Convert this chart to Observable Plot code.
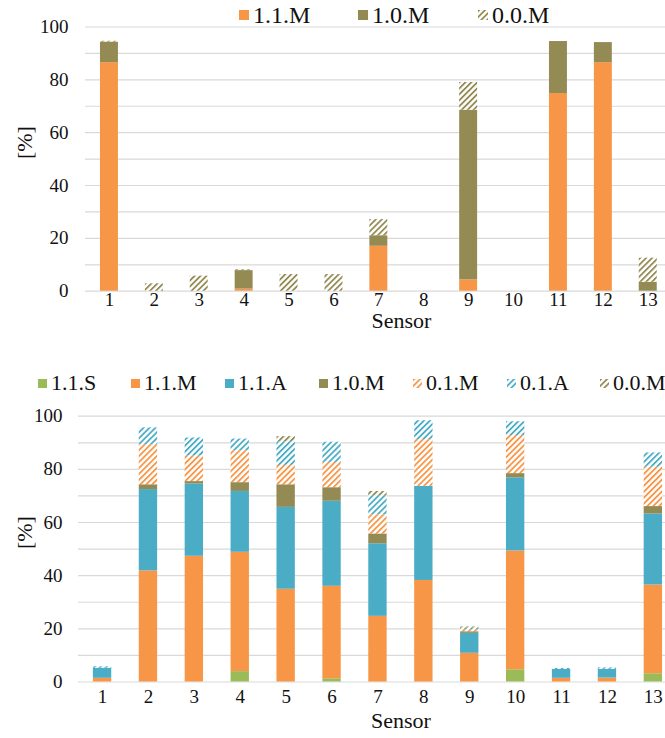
<!DOCTYPE html>
<html>
<head>
<meta charset="utf-8">
<script src="https://cdn.jsdelivr.net/npm/d3@7"></script>
<script src="https://cdn.jsdelivr.net/npm/@observablehq/plot@0.6"></script>
<style>
  body { margin: 0; background: #fff; }
  #root { position: relative; width: 665px; height: 738px; font-family: "Liberation Serif", "Times New Roman", serif; color: #111; overflow: hidden; }
  .chart { position: absolute; left: 0; }
  .chart text { font-family: "Liberation Serif", "Times New Roman", serif; }
  .legend { position: absolute; left: 0; width: 665px; height: 30px; }
  .item { position: absolute; top: 0; display: flex; align-items: center; height: 30px; white-space: nowrap; }
  .item svg { margin-right: 4px; }
</style>
</head>
<body>
<div id="root">
  <svg width="0" height="0" style="position:absolute">
    <defs id="pdefs"></defs>
  </svg>
</div>
<script>
// ---------- data ----------
const sensors = [1, 2, 3, 4, 5, 6, 7, 8, 9, 10, 11, 12, 13];

// top chart series
const topSeries = ["1.1.M", "1.0.M", "0.0.M"];
const top_11M = [86.5, 0, 0, 0.8, 0, 0, 17.0, 0, 4.3, 0, 74.8, 86.5, 0];
const top_10M = [7.8, 0, 0, 7.0, 0, 0, 4.0, 0, 64.2, 0, 19.7, 7.6, 3.4];
const top_00M = [0.3, 2.8, 5.7, 0.3, 6.3, 6.3, 6.1, 0, 10.5, 0, 0, 0, 9.1];

// bottom chart series
const botSeries = ["1.1.S", "1.1.M", "1.1.A", "1.0.M", "0.1.M", "0.1.A", "0.0.M"];
const bot_11S = [0, 0, 0, 3.9, 0, 1.2, 0, 0, 0, 4.6, 0, 0, 3.1];
const bot_11M = [1.4, 41.8, 47.3, 44.9, 34.9, 34.8, 24.7, 38.2, 10.8, 44.7, 1.4, 1.5, 33.4];
const bot_11A = [3.8, 30.6, 27.2, 22.9, 30.8, 32.0, 27.3, 35.4, 7.5, 27.5, 3.3, 3.3, 26.7];
const bot_10M = [0, 1.8, 0.9, 3.3, 8.5, 5.1, 3.7, 0, 0.6, 1.6, 0, 0, 2.8];
const bot_01M = [0, 15.1, 9.6, 12.0, 7.3, 9.5, 7.2, 17.6, 0.8, 14.3, 0, 0, 14.8];
const bot_01A = [0.5, 6.3, 6.8, 4.4, 8.9, 7.6, 7.2, 7.1, 0.6, 5.2, 0.4, 0.5, 5.4];
const bot_00M = [0, 0, 0, 0, 1.9, 0, 1.6, 0, 0.4, 0, 0, 0, 0];

const yTicks = [0, 20, 40, 60, 80, 100];
const yGrid = [0, 10, 20, 30, 40, 50, 60, 70, 80, 90, 100];

// ---------- styles ----------
const FONT = "'Liberation Serif', 'Times New Roman', serif";
const C = { S: "#9BBB59", M: "#F79646", A: "#4BACC6", O: "#948A54" };
const fillOf = {
  "1.1.S": C.S, "1.1.M": C.M, "1.1.A": C.A, "1.0.M": C.O,
  "0.1.M": "url(#hatch-M)", "0.1.A": "url(#hatch-A)", "0.0.M": "url(#hatch-O)"
};

// hatch patterns
const defs = document.getElementById("pdefs");
[["hatch-M", C.M], ["hatch-A", C.A], ["hatch-O", C.O]].forEach(([id, col]) => {
  defs.insertAdjacentHTML("beforeend",
    `<pattern id="${id}" width="4.2" height="4.2" patternUnits="userSpaceOnUse" patternTransform="rotate(45)">
       <rect width="4.2" height="4.2" fill="#fff"/>
       <rect x="0" y="0" width="1.8" height="4.2" fill="${col}"/>
     </pattern>`);
});

function rows(seriesNames, arrays) {
  const out = [];
  sensors.forEach((s, i) => {
    seriesNames.forEach((name, k) => out.push({ sensor: s, series: name, value: arrays[k][i] }));
  });
  return out;
}

function chart({ data, series, top, height, marginTop, marginBottom, marginLeft, range, tickPad, xLabelPad, sensorDy, sensorDx, pctX }) {
  const p = Plot.plot({
    width: 665, height, marginTop, marginBottom, marginLeft, marginRight: 0,
    style: `font-family: ${FONT}; font-size: 19px; color: #111; background: transparent; overflow: visible;`,
    x: { type: "band", domain: sensors, range, round: false, paddingInner: 0.6, paddingOuter: 0.3, axis: null },
    y: { domain: [0, 100], axis: null },
    color: { type: "ordinal", domain: series, range: series.map(s => fillOf[s]) },
    marks: [
      Plot.ruleY(yGrid, { stroke: "#d9d9d9", strokeWidth: 1.2 }),
      Plot.barY(data, Plot.stackY({ x: "sensor", y: "value", fill: "series", order: null })),
      Plot.axisY(yTicks, { tickSize: 0, tickPadding: tickPad, fontSize: 19, fontFamily: FONT, label: null }),
      Plot.axisX(sensors, { tickSize: 0, tickPadding: xLabelPad, fontSize: 19, fontFamily: FONT, label: null }),
      Plot.text(["Sensor"], { frameAnchor: "bottom", dy: sensorDy, dx: sensorDx, fontSize: 22, fontFamily: FONT }),
      Plot.text(["[%]"], { frameAnchor: "left", dx: -(marginLeft - pctX), rotate: -90, fontSize: 22, fontFamily: FONT })
    ]
  });
  p.classList.add("chart");
  p.style.top = top + "px";
  return p;
}

function legend(items, top, fontSize, sw) {
  const d = document.createElement("div");
  d.className = "legend";
  d.style.top = top + "px";
  items.forEach(([name, left]) => {
    const it = document.createElement("div");
    it.className = "item";
    it.style.left = left + "px";
    it.style.fontSize = fontSize + "px";
    it.innerHTML = `<svg width="${sw}" height="${sw}"><rect width="${sw}" height="${sw}" fill="${fillOf[name]}"/></svg><span>${name}</span>`;
    d.appendChild(it);
  });
  return d;
}

const root = document.getElementById("root");

// top chart: y(100)=26.5, y(0)=290.7
root.appendChild(chart({
  data: rows(topSeries, [top_11M, top_10M, top_00M]), series: topSeries,
  top: 0, height: 345, marginTop: 26.5, marginBottom: 54.3, marginLeft: 85,
  range: [86.5, 670.2], tickPad: 17, xLabelPad: 1, sensorDy: 37, sensorDx: 26, pctX: 24
}));
root.appendChild(legend([["1.1.M", 239], ["1.0.M", 358], ["0.0.M", 478]], 0, 24, 10));

// bottom chart: y(100)=415.7, y(0)=681.5
root.appendChild(chart({
  data: rows(botSeries, [bot_11S, bot_11M, bot_11A, bot_10M, bot_01M, bot_01A, bot_00M]), series: botSeries,
  top: 380, height: 358, marginTop: 35.7, marginBottom: 56.5, marginLeft: 78,
  range: [79.1, 675.8], tickPad: 16, xLabelPad: 7, sensorDy: 46, sensorDx: 29, pctX: 24
}));
root.appendChild(legend([["1.1.S", 38], ["1.1.M", 131], ["1.1.A", 225], ["1.0.M", 319], ["0.1.M", 413], ["0.1.A", 507], ["0.0.M", 600]], 368, 22, 9));
</script>
</body>
</html>
